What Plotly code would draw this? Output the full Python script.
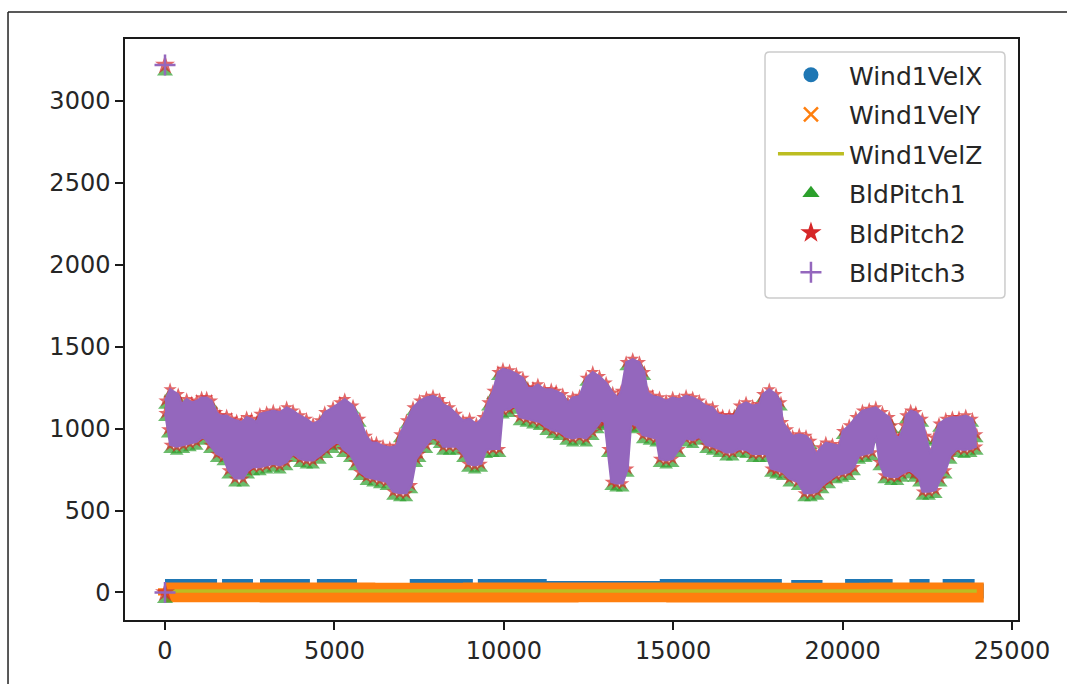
import plotly.graph_objects as go

# ---------------- data ----------------
# Wind1VelX: upper envelope as a step series (time, value), plus its floor
wind_x_t = [0, 1330, 1890, 2390, 3010, 4070, 4690, 5460, 7430, 8880, 9440, 11060,
            14810, 18000, 18690, 19200, 20280, 21270, 22180, 22360, 23160, 23690, 23960]
wind_x_top = [40, 12, 40, 11, 40, 12, 40, 10, 40, 12, 40, 27,
              40, 11, 34, 10, 40, 12, 40, 11, 40, 10, 10]
wind_x_floor_t = [23960, 0]
wind_x_floor = [6, 6]

# Wind1VelY: upper / lower envelope
wind_y_t = [0, 3000, 6000, 9000, 12000, 15000, 18000, 21000, 23960]
wind_y_hi = [18, 18, 17, 18, 18, 18, 17, 18, 18]
wind_y_lo = [-18, -17, -18, -18, -18, -17, -18, -18, -18]

# Wind1VelZ
wind_z_t = [0, 2000, 4000, 6000, 8000, 10000, 12000, 14000, 16000, 18000, 20000, 22000, 23960]
wind_z = [9, 10, 8, 9, 11, 10, 9, 8, 10, 9, 10, 9, 9]

# Blade pitch: two initial samples, then upper / lower envelope of the signal
pitch_init_t = [0, 0]
pitch_init = [3220, 0]

pitch_top_t = [0, 150, 390, 490, 640, 790, 935, 1080, 1230, 1375, 1525, 1620, 1820, 1965,
               2115, 2260, 2410, 2555, 2705, 2800, 3000, 3195, 3390, 3590, 3780, 3980,
               4175, 4370, 4570, 4715, 4960, 5160, 5305, 5550, 5750, 5945, 6095, 6240,
               6435, 6635, 6830, 6930, 7125, 7320, 7515, 7715, 7910, 8105, 8205, 8400,
               8600, 8795, 8990, 9190, 9385, 9530, 9680, 9825, 9975, 10170, 10370, 10565,
               10710, 10860, 11005, 11200, 11400, 11545, 11740, 11890, 12035, 12235,
               12430, 12625, 12825, 13020, 13215, 13365, 13465, 13610, 13805, 14005,
               14150, 14250, 14395, 14595, 14790, 14985, 15180, 15380, 15575, 15770,
               15970, 16165, 16310, 16460, 16655, 16805, 16950, 17150, 17345, 17540,
               17640, 17835, 18035, 18180, 18230, 18375, 18525, 18720, 18920, 19065,
               19210, 19360, 19505, 19700, 19900, 20000, 20195, 20390, 20585, 20785,
               20980, 21175, 21375, 21470, 21570, 21670, 21815, 21865, 22010, 22160,
               22355, 22455, 22600, 22700, 22845, 23045, 23240, 23435, 23635, 23830, 23960]
pitch_top = [1170, 1240, 1210, 1150, 1180, 1160, 1170, 1190, 1190, 1170, 1100, 1080, 1080, 1060,
             1050, 1040, 1070, 1060, 1040, 1090, 1100, 1110, 1100, 1130, 1110, 1080,
             1060, 1030, 1050, 1100, 1130, 1160, 1180, 1140, 1060, 955, 915, 915,
             895, 885, 895, 965, 1050, 1130, 1170, 1190, 1200, 1180, 1150, 1130,
             1090, 1050, 1060, 1030, 1070, 1160, 1230, 1345, 1365, 1355, 1335, 1310,
             1250, 1250, 1270, 1240, 1240, 1230, 1210, 1160, 1190, 1200,
             1310, 1345, 1320, 1280, 1220, 1190, 1230, 1405, 1425, 1405,
             1345, 1220, 1200, 1190, 1170, 1190, 1180, 1200, 1190, 1170,
             1140, 1130, 1090, 1080, 1080, 1080, 1140, 1160, 1140, 1150,
             1210, 1240, 1210, 1160, 1040, 995, 955, 965, 955, 925,
             845, 885, 915, 905, 895, 985, 1020, 1070, 1110, 1120,
             1130, 1100, 1070, 1020, 955, 945, 1020, 1080, 1110, 1100,
             1060, 955, 845, 945, 1030, 1060, 1070, 1070, 1080, 1060, 965]

pitch_bot_t = [0, 80, 150, 345, 540, 735, 935, 1130, 1325, 1525, 1720, 1865, 2065, 2310,
               2455, 2605, 2800, 3000, 3195, 3390, 3590, 3780, 3980, 4175, 4370, 4570,
               4765, 4960, 5110, 5255, 5455, 5600, 5750, 5945, 6140, 6340, 6535, 6730,
               6930, 7125, 7275, 7420, 7515, 7715, 7910, 8105, 8205, 8400, 8600, 8795,
               8940, 9140, 9335, 9485, 9680, 9875, 9975, 10170, 10320, 10465, 10665,
               10860, 11055, 11250, 11445, 11645, 11840, 12035, 12235, 12430, 12625,
               12775, 12875, 12970, 13070, 13170, 13315, 13510, 13660, 13760, 13905,
               14100, 14300, 14495, 14595, 14790, 14985, 15180, 15380, 15575, 15770,
               15970, 16165, 16360, 16560, 16755, 16950, 17150, 17345, 17540, 17740,
               17885, 18035, 18230, 18425, 18670, 18865, 19065, 19260, 19410, 19605,
               19805, 20000, 20195, 20340, 20490, 20685, 20880, 20980, 21080, 21225,
               21425, 21620, 21765, 21965, 22110, 22255, 22355, 22550, 22750, 22895,
               23045, 23190, 23385, 23585, 23780, 23960]
pitch_bot = [1095, 995, 900, 890, 900, 910, 920, 950, 900, 845, 825, 745, 695, 695,
             745, 765, 765, 775, 785, 775, 795, 845, 815, 805, 805, 835,
             870, 900, 920, 875, 845, 795, 735, 705, 695, 685, 675, 615,
             605, 605, 655, 815, 845, 900, 950, 930, 890, 890, 890, 845,
             785, 775, 785, 870, 875, 875, 1110, 1120, 1140, 1070, 1060,
             1050, 1040, 1010, 990, 980, 950, 940, 950, 940, 980,
             1020, 1050, 1040, 875, 675, 665, 665, 755, 1030, 1020,
             960, 950, 940, 815, 805, 815, 875, 940, 930, 950,
             900, 890, 875, 855, 855, 875, 870, 845, 845, 845,
             755, 745, 735, 695, 675, 605, 605, 615, 655, 685,
             715, 725, 735, 765, 835, 845, 855, 960, 795, 715,
             705, 705, 725, 745, 725, 695, 615, 615, 625, 695,
             745, 835, 875, 870, 875, 890]

x_ticks = [0, 5000, 10000, 15000, 20000, 25000]
y_ticks = [0, 500, 1000, 1500, 2000, 2500, 3000]

# ---------------- style ----------------
C_BLUE = "#1f77b4"
C_ORANGE = "#ff7f0e"
C_OLIVE = "#bcbd22"
C_GREEN = "#2ca02c"
C_RED = "#d62728"
C_PURPLE = "#9467bd"
FONT = "DejaVu Sans"
TXT = "#262626"

fig = go.Figure()

# Wind1VelX band (drawn first, mostly hidden under VelY)
fig.add_trace(go.Scatter(
    x=wind_x_t + wind_x_floor_t, y=wind_x_top + wind_x_floor,
    mode="lines", line=dict(shape="hv", color=C_BLUE, width=14),
    fill="toself", fillcolor=C_BLUE, showlegend=False, hoverinfo="skip"))

# Wind1VelY band
fig.add_trace(go.Scatter(
    x=wind_y_t + wind_y_t[::-1], y=wind_y_hi + wind_y_lo[::-1],
    mode="lines", line=dict(shape="hv", color=C_ORANGE, width=14),
    fill="toself", fillcolor=C_ORANGE, showlegend=False, hoverinfo="skip"))

# Wind1VelZ line
fig.add_trace(go.Scatter(
    x=wind_z_t, y=wind_z, mode="lines",
    line=dict(color=C_OLIVE, width=3.5), showlegend=False, hoverinfo="skip"))

# all blade-pitch samples drawn as markers (init + upper edge + lower edge)
p_x = pitch_init_t + pitch_top_t + pitch_bot_t
p_y = pitch_init + pitch_top + pitch_bot
n_init = len(pitch_init_t)
n_edge = len(pitch_top_t) + len(pitch_bot_t)

# BldPitch1 triangles (sit slightly below each sample so the base peeks out)
fig.add_trace(go.Scatter(
    x=p_x, y=p_y, mode="markers",
    marker=dict(symbol="triangle-up", size=[14] * n_init + [12] * n_edge,
                standoff=[7] * n_init + [5] * n_edge,
                color=C_GREEN, line=dict(width=0)),
    showlegend=False, hoverinfo="skip"))

# BldPitch2 stars
fig.add_trace(go.Scatter(
    x=p_x, y=p_y, mode="markers",
    marker=dict(symbol="star", size=[15] * n_init + [10] * n_edge,
                color=C_RED, line=dict(width=0)),
    showlegend=False, hoverinfo="skip"))

# BldPitch3 dense band
fig.add_trace(go.Scatter(
    x=pitch_bot_t, y=pitch_bot, mode="lines",
    line=dict(color=C_PURPLE, width=2),
    showlegend=False, hoverinfo="skip"))
fig.add_trace(go.Scatter(
    x=pitch_top_t, y=pitch_top, mode="lines",
    line=dict(color=C_PURPLE, width=2),
    fill="tonexty", fillcolor=C_PURPLE, showlegend=False, hoverinfo="skip"))
fig.add_trace(go.Scatter(
    x=pitch_init_t, y=pitch_init, mode="markers",
    marker=dict(symbol="cross-thin", size=15, color=C_PURPLE,
                line=dict(color=C_PURPLE, width=2.5)),
    showlegend=False, hoverinfo="skip"))

# legend entries
legend_items = [
    ("Wind1VelX", dict(mode="markers", marker=dict(symbol="circle", size=15, color=C_BLUE))),
    ("Wind1VelY", dict(mode="markers", marker=dict(symbol="x-thin", size=14, color=C_ORANGE,
                                                  line=dict(color=C_ORANGE, width=2.5)))),
    ("Wind1VelZ", dict(mode="lines", line=dict(color=C_OLIVE, width=3.5))),
    ("BldPitch1", dict(mode="markers", marker=dict(symbol="triangle-up", size=15, color=C_GREEN))),
    ("BldPitch2", dict(mode="markers", marker=dict(symbol="star", size=16, color=C_RED))),
    ("BldPitch3", dict(mode="markers", marker=dict(symbol="cross-thin", size=15, color=C_PURPLE,
                                                  line=dict(color=C_PURPLE, width=2.5)))),
]
for name, kw in legend_items:
    fig.add_trace(go.Scatter(x=[None], y=[None], name=name, legendgroup=name,
                             showlegend=True, hoverinfo="skip", **kw))

axis_common = dict(
    showgrid=False, zeroline=False, showline=True, mirror=True,
    linecolor="#1a1a1a", linewidth=1.5,
    ticks="outside", ticklen=8, tickwidth=1.5, tickcolor="#1a1a1a",
    tickfont=dict(family=FONT, size=24, color=TXT),
)

# legend frame with rounded corners (paper coordinates)
lx0, lx1, ly0, ly1 = 0.7167, 0.9854, 0.5542, 0.9776
rx, ry = 0.0050, 0.0077
frame_path = (f"M {lx0 + rx},{ly1} L {lx1 - rx},{ly1} Q {lx1},{ly1} {lx1},{ly1 - ry} "
              f"L {lx1},{ly0 + ry} Q {lx1},{ly0} {lx1 - rx},{ly0} "
              f"L {lx0 + rx},{ly0} Q {lx0},{ly0} {lx0},{ly0 + ry} "
              f"L {lx0},{ly1 - ry} Q {lx0},{ly1} {lx0 + rx},{ly1} Z")

fig.update_layout(
    width=1067, height=684,
    margin=dict(l=125, r=49, t=39, b=64),
    paper_bgcolor="white", plot_bgcolor="white",
    xaxis=dict(range=[-1181, 25177], tickvals=x_ticks,
               ticktext=[str(v) for v in x_ticks], **axis_common),
    yaxis=dict(range=[-168, 3378], tickvals=y_ticks,
               ticktext=[str(v) for v in y_ticks], **axis_common),
    legend=dict(
        x=0.7256, y=ly1, xanchor="left", yanchor="top",
        bgcolor="rgba(0,0,0,0)", borderwidth=0,
        font=dict(family=FONT, size=25, color=TXT),
        itemwidth=66, tracegroupgap=4,
    ),
    shapes=[
        dict(type="path", xref="paper", yref="paper", path=frame_path, layer="above",
             fillcolor="rgba(255,255,255,0.8)", line=dict(color="#cccccc", width=1.5)),
        dict(type="line", xref="paper", yref="paper", x0=-0.131, x1=1.06, y0=1.0465, y1=1.0465,
             line=dict(color="#222222", width=1.5)),
        dict(type="line", xref="paper", yref="paper", x0=-0.131, x1=-0.131, y0=1.0465, y1=-0.12,
             line=dict(color="#222222", width=1.5)),
    ],
    showlegend=True,
)

fig.write_html("out.html")
